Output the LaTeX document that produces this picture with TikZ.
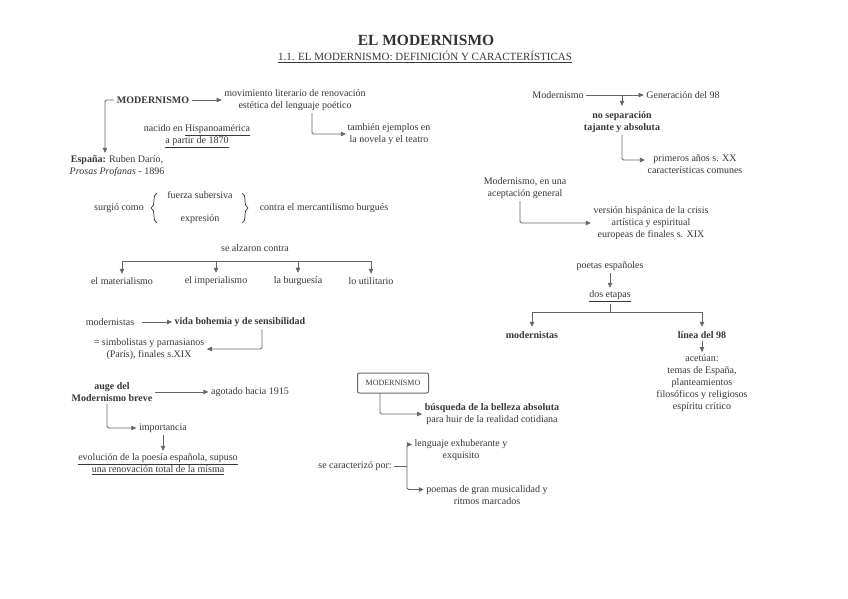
\documentclass[tikz,border=0pt]{standalone}
\usepackage{fontspec}
\setmainfont{Liberation Serif}
\usetikzlibrary{arrows.meta,positioning,decorations.pathreplacing}
\definecolor{txt}{HTML}{383838}
\definecolor{ln}{HTML}{666666}
\tikzset{
  every node/.style={inner sep=2.5pt, text=txt, align=center, font=\fontsize{10}{11.8}\selectfont},
  lin/.style={draw=ln, line width=0.8pt, rounded corners=1.5pt},
  arr/.style={lin, -{Triangle[length=5pt,width=4.5pt]}},
  bld/.style={font=\fontsize{10}{11.8}\selectfont\bfseries},
  brc/.style={draw=txt, line width=0.7pt, decorate, decoration={brace, amplitude=6pt}},
}
\begin{document}
\begin{tikzpicture}[x=1pt, y=-1pt]
\fill[white] (0,0) rectangle (848,599);
\useasboundingbox (0,0) rectangle (848,599);

\node[font=\fontsize{15.5}{17}\selectfont\bfseries, text=black!80] (title) at (426,40) {EL MODERNISMO};
\node[font=\fontsize{11}{12}\selectfont] (sub) at (425,57) {\underline{1.1. EL MODERNISMO: DEFINICIÓN Y CARACTERÍSTICAS}};

\node[bld] (mod) at (153,100) {MODERNISMO};
\node (mov) at (295,100) {movimiento literario de renovación\\estética del lenguaje poético};
\node (tamb) at (389,134) {también ejemplos en\\la novela y el teatro};
\node (nac) at (197,136) {nacido en \underline{Hispanoamérica}\\\underline{a partir de 1870}};
\node (esp) at (117,166) {\textbf{España:} Ruben Darío,\\\textit{Prosas Profanas} - 1896};
\draw[arr] (mod.west) -| ([xshift=-12pt]esp.north);
\draw[arr] (mod.east) -- (mov.west);
\draw[arr] ([xshift=17pt]mov.south) |- ([xshift=1pt]tamb.west);

\node (surg) at (119,208) {surgió como};
\node (fs) at (200,195) {fuerza subersiva};
\node (ex) at (200,219) {expresión};
\node (contra) at (324,208) {contra el mercantilismo burgués};
\coordinate (lbb) at (157,223);
\coordinate (lbt) at (157,193);
\coordinate (rbt) at (242,193);
\coordinate (rbb) at (242,223);
\draw[brc] (lbb) -- (lbt);
\draw[brc] (rbt) -- (rbb);

\node (alz) at (255,248) {se alzaron contra};
\coordinate (bar) at (255,261);
\node (mat) at (122,281) {el materialismo};
\node (impe) at (216,281) {el imperialismo};
\node (bur) at (298,281) {la burguesía};
\node (uti) at (371,281) {lo utilitario};
\draw[lin] (mat.north |- bar) -- (uti.north |- bar);
\foreach \n in {mat,impe,bur,uti}
  \draw[arr] (\n.north |- bar) -- ([yshift=1pt]\n.north);

\node (modn) at (110,322) {modernistas};
\node[bld] (vida) at (240,322) {vida bohemia y de sensibilidad};
\node (sim) at (149,349) {= simbolistas y parnasianos\\(París), finales s.XIX};
\draw[arr, shorten <=5pt] (modn.east) -- (vida.west);
\draw[arr] ([xshift=22pt]vida.south) |- (sim.east);

\node[bld] (auge) at (112,392) {auge del\\Modernismo breve};
\node (agot) at (250,392) {agotado hacia 1915};
\node (impo) at (163,428) {importancia};
\node (evol) at (158,464) {\underline{evolución de la poesía española, supuso}\\\underline{una renovación total de la mísma}};
\draw[arr] (auge.east) -- (agot.west);
\draw[arr] ([xshift=-5pt]auge.south) |- (impo.west);
\draw[arr] (impo.south) -- (impo.south |- evol.north);

\node[draw=ln, line width=1pt, rounded corners=2pt, minimum width=71pt, minimum height=20pt, font=\fontsize{8}{9}\selectfont] (mbox) at (393,383) {MODERNISMO};
\node (busq) at (492,414) {\textbf{búsqueda de la belleza absoluta}\\para huir de la realidad cotidiana};
\draw[arr] ([xshift=-13pt]mbox.south) |- (busq.west);

\node (carac) at (355,466) {se caracterizó por:};
\node (lex) at (461,450) {lenguaje exhuberante y\\exquisito};
\node (poem) at (487,495) {poemas de gran musicalidad y\\ritmos marcados};
\coordinate (fork) at (407,466);
\draw[lin] (carac.east) -- (fork);
\draw[arr] (fork) |- ([yshift=5.5pt]lex.west);
\draw[arr] (fork) |- ([yshift=5.5pt]poem.west);

\node (rmod) at (558,95) {Modernismo};
\node (gen) at (683,95) {Generación del 98};
\node[bld] (nosep) at (622,122) {no separación\\tajante y absoluta};
\node (prim) at (695,164) {primeros años s. XX\\características comunes};
\draw[arr] (rmod.east) -- (gen.west);
\draw[arr] (rmod.east -| nosep.north) -- ([yshift=3pt]nosep.north);
\draw[arr] (nosep.south) |- ([yshift=4pt]prim.west);

\node (acep) at (525,188) {Modernismo, en una\\aceptación general};
\node (vers) at (651,223) {versión hispánica de la crisis\\artística y espiritual\\europeas de finales s. XIX};
\draw[arr] ([xshift=-5pt]acep.south) |- (vers.west);

\node (poet) at (610,266) {poetas españoles};
\node (dos) at (610,296) {\underline{dos etapas}};
\coordinate (bar2) at (610,312);
\node[bld] (mod2) at (532,335) {modernistas};
\node[bld] (lin98) at (702,335) {línea del 98};
\node (acet) at (702,383) {acetúan:\\temas de España,\\planteamientos\\filosóficos y religiosos\\espíritu crítico};
\draw[arr] (poet.south) -- (dos.north);
\draw[lin] (dos.south) -- (bar2);
\draw[lin] (mod2.north |- bar2) -- (lin98.north |- bar2);
\draw[arr] (mod2.north |- bar2) -- ([yshift=2pt]mod2.north);
\draw[arr] (lin98.north |- bar2) -- ([yshift=2pt]lin98.north);
\draw[arr] (lin98.south) -- (acet.north);
\end{tikzpicture}
\end{document}
